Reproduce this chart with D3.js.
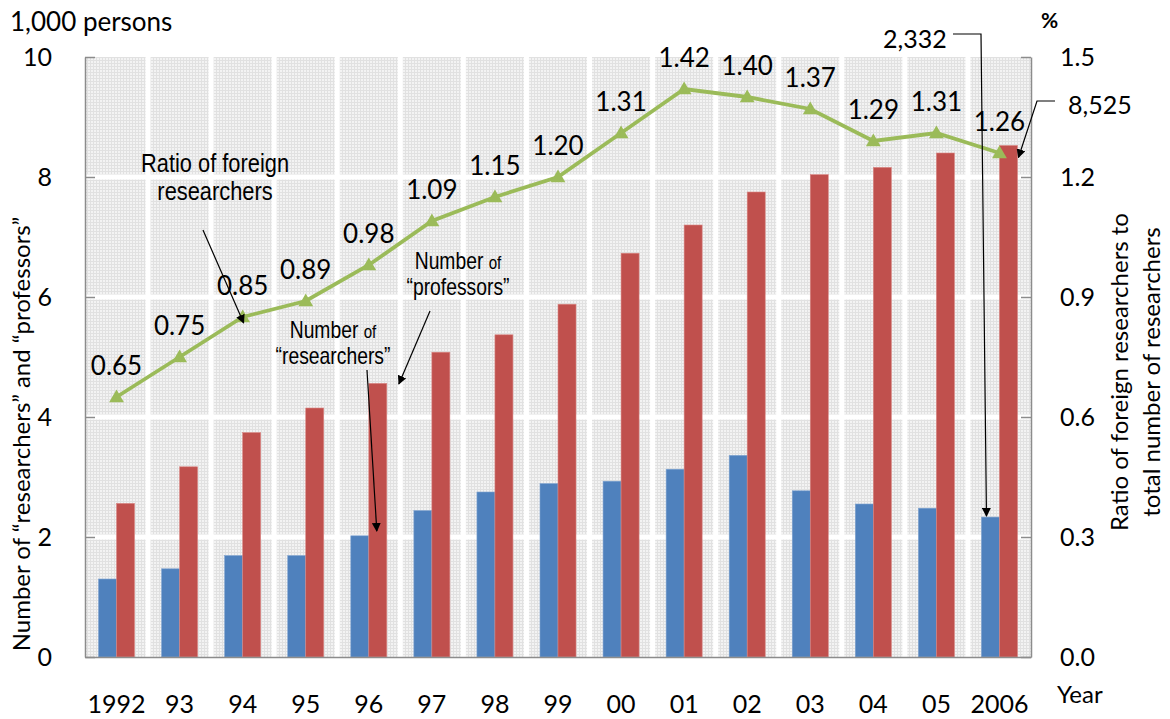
<!DOCTYPE html>
<meta charset="utf-8">
<style>
body { margin: 0; background: #fff; }
text { font-family: Lato, "Open Sans", sans-serif; fill: #000; }
.note text { font-family: "Liberation Sans Narrow", "Liberation Sans", sans-serif; }
.note text.num { font-family: Lato, sans-serif; }
.axis path, .axis line { stroke: #8c8c8c; stroke-width: 1.5px; }
.grid line { stroke: #fff; stroke-width: 5px; }
</style>
<svg width="1170" height="719"></svg>
<script src="https://cdn.jsdelivr.net/npm/d3@7"></script>
<script>

var years = ["1992", "93", "94", "95", "96", "97", "98", "99", "00", "01", "02", "03", "04", "05", "2006"];
var researchers = [1.30, 1.47, 1.69, 1.69, 2.02, 2.44, 2.75, 2.89, 2.93, 3.13, 3.36, 2.77, 2.55, 2.48, 2.332];
var professors = [2.56, 3.17, 3.74, 4.15, 4.56, 5.08, 5.37, 5.88, 6.73, 7.20, 7.75, 8.04, 8.16, 8.40, 8.525];
var ratio = [0.65, 0.75, 0.85, 0.89, 0.98, 1.09, 1.15, 1.20, 1.31, 1.42, 1.40, 1.37, 1.29, 1.31, 1.26];
var leftTicks = [0, 2, 4, 6, 8, 10];
var rightTicks = [0, 0.3, 0.6, 0.9, 1.2, 1.5];

var svg = d3.select("svg"),
    pL = 85, pR = 1031, pT = 57, pB = 657;

var x = d3.scaleBand().domain(years).range([pL, pR]).padding(0);
var y = d3.scaleLinear().domain([0, 10]).range([pB, pT]);
var y2 = d3.scaleLinear().domain([0, 1.5]).range([pB, pT]);
var barW = 18;

var defs = svg.append("defs");
var pat = defs.append("pattern")
    .attr("id", "grain")
    .attr("width", 3).attr("height", 3)
    .attr("patternUnits", "userSpaceOnUse");
pat.append("rect").attr("width", 3).attr("height", 3).attr("fill", "#f3f3f3");
pat.append("path").attr("d", "M0 0.5H3M0.5 0V3").attr("stroke", "#e1e1e1").attr("stroke-width", 1);

defs.append("marker")
    .attr("id", "arrow")
    .attr("viewBox", "0 0 10 10")
    .attr("refX", 9).attr("refY", 5)
    .attr("markerWidth", 9).attr("markerHeight", 9)
    .attr("markerUnits", "userSpaceOnUse")
    .attr("orient", "auto")
  .append("path")
    .attr("d", "M0 0L10 5L0 10Z")
    .attr("fill", "#000");

// plot background
svg.append("rect")
    .attr("x", pL).attr("y", pT)
    .attr("width", pR - pL).attr("height", pB - pT)
    .attr("fill", "url(#grain)");

// white grid
var grid = svg.append("g").attr("class", "grid");
grid.selectAll(".v")
    .data(years.slice(1))
    .enter().append("line")
    .attr("x1", function(d) { return x(d); })
    .attr("x2", function(d) { return x(d); })
    .attr("y1", pT).attr("y2", pB);
grid.selectAll(".h")
    .data(leftTicks.slice(1, -1))
    .enter().append("line")
    .attr("x1", pL).attr("x2", pR)
    .attr("y1", function(d) { return y(d); })
    .attr("y2", function(d) { return y(d); });

// bars
svg.selectAll(".res")
    .data(researchers)
    .enter().append("rect")
    .attr("x", function(d, i) { return x(years[i]) + x.bandwidth() / 2 - barW; })
    .attr("y", function(d) { return y(d); })
    .attr("width", barW)
    .attr("height", function(d) { return pB - y(d); })
    .attr("fill", "#4f81bd")
    .attr("stroke", "#7fa3d0").attr("stroke-width", 0.6);

svg.selectAll(".prof")
    .data(professors)
    .enter().append("rect")
    .attr("x", function(d, i) { return x(years[i]) + x.bandwidth() / 2; })
    .attr("y", function(d) { return y(d); })
    .attr("width", barW)
    .attr("height", function(d) { return pB - y(d); })
    .attr("fill", "#c0504d")
    .attr("stroke", "#d98784").attr("stroke-width", 0.6);

// axes
svg.append("g")
    .attr("class", "axis")
    .attr("transform", "translate(" + pL + ",0)")
    .call(d3.axisLeft(y).tickValues(leftTicks).tickSizeInner(-10).tickSizeOuter(0).tickPadding(33))
    .call(function(g) { g.selectAll("text").style("font-size", "25px").attr("fill", "#000"); });

svg.append("g")
    .attr("class", "axis")
    .attr("transform", "translate(" + pR + ",0)")
    .call(d3.axisRight(y2).tickValues(rightTicks).tickFormat(d3.format(".1f")).tickSizeInner(-10).tickSizeOuter(0).tickPadding(29))
    .call(function(g) { g.selectAll("text").style("font-size", "25px").attr("fill", "#000"); });

svg.append("g")
    .attr("class", "axis")
    .attr("transform", "translate(0," + pB + ")")
    .call(d3.axisBottom(x).tickSize(0).tickPadding(38))
    .call(function(g) { g.selectAll("text").style("font-size", "25px").attr("fill", "#000"); });

// ratio line
var cx = function(i) { return x(years[i]) + x.bandwidth() / 2; };

var line = d3.line()
    .x(function(d, i) { return cx(i); })
    .y(function(d) { return y2(d); });

svg.append("path")
    .datum(ratio)
    .attr("d", line)
    .attr("fill", "none")
    .attr("stroke", "#9bbb59")
    .attr("stroke-width", 3.8);

svg.selectAll(".mk")
    .data(ratio)
    .enter().append("path")
    .attr("d", d3.symbol().type(d3.symbolTriangle).size(95))
    .attr("transform", function(d, i) { return "translate(" + cx(i) + "," + (y2(d) + 1) + ")"; })
    .attr("fill", "#9bbb59");

svg.selectAll(".lbl")
    .data(ratio)
    .enter().append("text")
    .attr("x", function(d, i) { return cx(i); })
    .attr("y", function(d) { return y2(d) - 22; })
    .attr("text-anchor", "middle")
    .style("font-size", "26px")
    .text(function(d) { return d3.format(".2f")(d); });

// axis titles
svg.append("text")
    .attr("x", 10).attr("y", 31)
    .style("font-size", "26px")
    .text("1,000 persons");

svg.append("text")
    .attr("x", 1041).attr("y", 28)
    .style("font-size", "21px").style("font-weight", "bold")
    .text("%");

svg.append("text")
    .attr("x", 1057).attr("y", 703)
    .style("font-size", "24px")
    .text("Year");

svg.append("text")
    .attr("transform", "translate(30,434) rotate(-90)")
    .attr("text-anchor", "middle")
    .style("font-size", "24px")
    .text("Number of \u201cresearchers\u201d  and \u201cprofessors\u201d");

var rt = svg.append("text")
    .attr("transform", "translate(1128,372) rotate(-90)")
    .attr("text-anchor", "middle")
    .style("font-size", "24px");
rt.append("tspan").attr("x", 0).attr("dy", 0).text("Ratio of foreign researchers  to");
rt.append("tspan").attr("x", 0).attr("dy", 32).text("total number of researchers");

// annotations, condensed horizontally like the narrow face of the original
var ann = svg.append("g").attr("class", "note");

function note(cxPos, sizes, lines) {
  var t = ann.append("text")
      .attr("text-anchor", "middle")
      .attr("transform", "translate(" + cxPos + ",0) scale(0.84,1)");
  lines.forEach(function(l) {
    t.append("tspan").attr("x", 0).attr("y", l.y).style("font-size", sizes[0] + "px").text(l.text);
    if (l.small) t.append("tspan").style("font-size", sizes[1] + "px").text(l.small);
  });
}

note(215, [26], [{ y: 172, text: "Ratio of foreign" }, { y: 200, text: "researchers" }]);
note(333, [23, 18], [{ y: 338, text: "Number ", small: "of" }, { y: 364, text: "\u201cresearchers\u201d" }]);
note(458, [23, 18], [{ y: 269, text: "Number ", small: "of" }, { y: 295, text: "\u201cprofessors\u201d" }]);

ann.append("text")
    .attr("class", "num")
    .attr("x", 883).attr("y", 48)
    .style("font-size", "25px")
    .text(d3.format(",")(Math.round(researchers[14] * 1000)));

ann.append("text")
    .attr("class", "num")
    .attr("x", 1068).attr("y", 114)
    .style("font-size", "25px")
    .text(d3.format(",")(Math.round(professors[14] * 1000)));

function arrow(pts) {
  ann.append("path")
      .attr("d", d3.line()(pts))
      .attr("fill", "none")
      .attr("stroke", "#000")
      .attr("stroke-width", 1.2)
      .attr("marker-end", "url(#arrow)");
}

arrow([[203, 230], [cx(2) + 1, y2(ratio[2]) + 6]]);
arrow([[367, 370], [cx(4) + 8, y(2.1)]]);
arrow([[430, 311], [cx(5) - 33, y(4.55)]]);
arrow([[953, 34], [981, 34], [cx(14) - 13, y(researchers[14]) - 1]]);
arrow([[1055, 101], [1037, 101], [cx(14) + barW + 1, y(professors[14]) + 12]]);

</script>
